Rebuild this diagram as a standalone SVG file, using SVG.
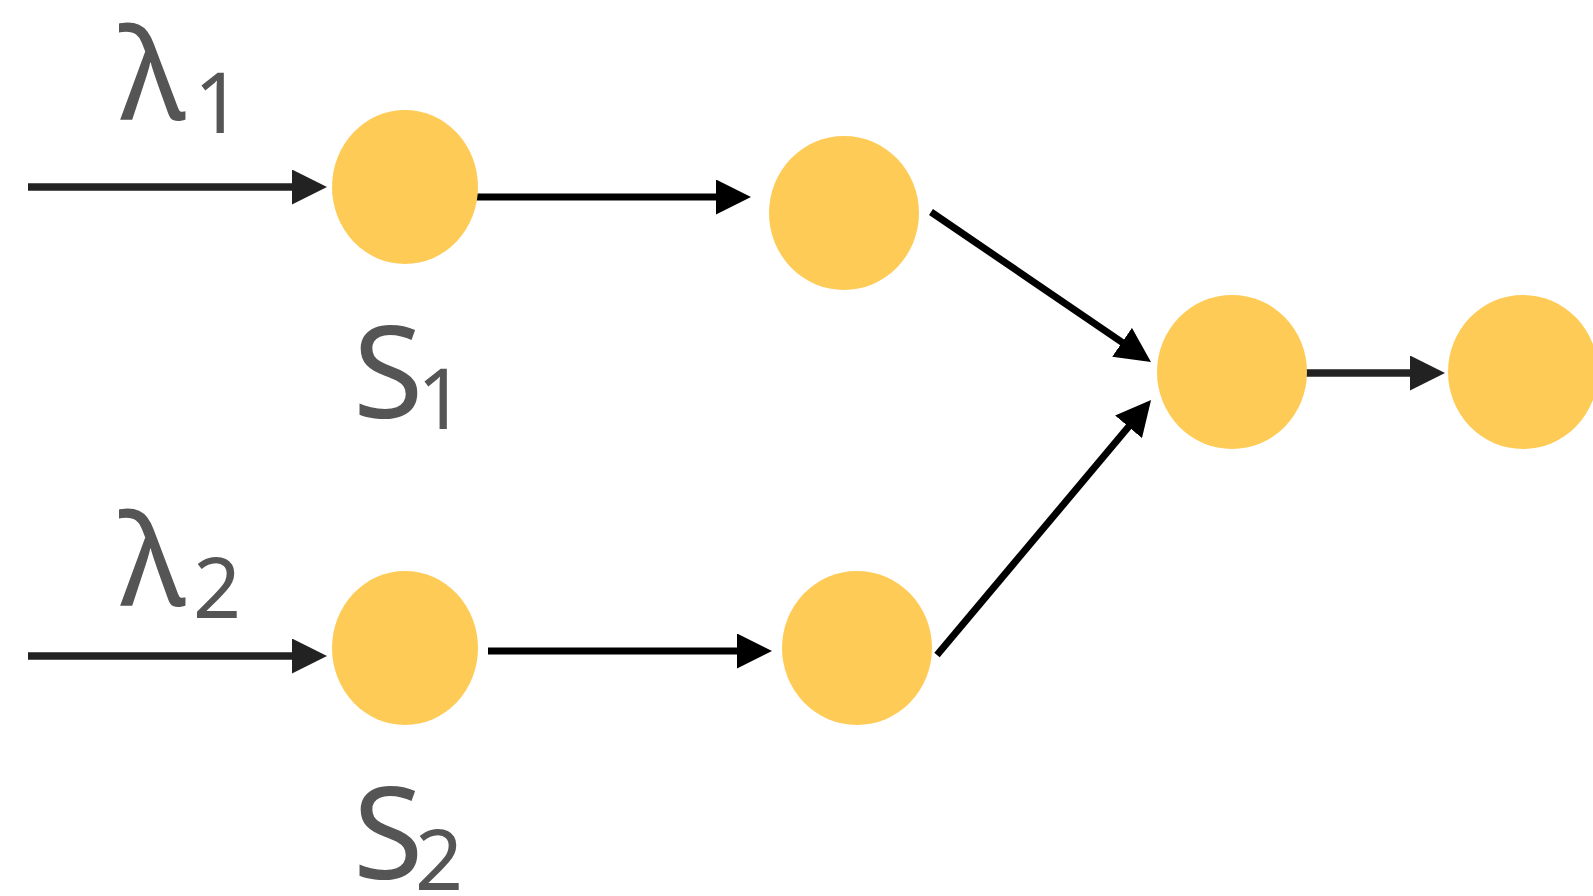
<svg xmlns="http://www.w3.org/2000/svg" width="1593" height="896" viewBox="0 0 1593 896">
  <style>
    .node { fill: #FECB57; }
    .edge { fill: none; stroke: #000; stroke-width: 7; }
    .edge.in { stroke: #222; stroke-width: 7.5; }
    .lbl { fill: #555; font-family: "Noto Sans", "Open Sans", "DejaVu Sans", sans-serif; font-weight: 400; }
    .big { font-size: 128px; }
    .sub { font-size: 84px; }
  </style>
  <defs>
    <marker id="head" markerUnits="userSpaceOnUse" markerWidth="35" markerHeight="35" refX="1" refY="17.5" orient="auto">
      <path d="M0,0 L35,17.5 L0,35 Z" fill="#000"/>
    </marker>
    <marker id="head-grey" markerUnits="userSpaceOnUse" markerWidth="35" markerHeight="35" refX="1" refY="17.5" orient="auto">
      <path d="M0,0 L35,17.5 L0,35 Z" fill="#222"/>
    </marker>
  </defs>

  <rect width="1593" height="896" fill="#fff"/>

  <!-- connectors -->
  <g id="connectors">
    <line class="edge in" x1="28" y1="187" x2="293" y2="187" marker-end="url(#head-grey)"/>
    <line class="edge in" x1="28" y1="656" x2="293" y2="656" marker-end="url(#head-grey)"/>
    <line class="edge" x1="470" y1="197" x2="717" y2="197" marker-end="url(#head)"/>
    <line class="edge" x1="488" y1="651" x2="738" y2="651" marker-end="url(#head)"/>
    <line class="edge" x1="931" y1="212" x2="1122.9" y2="342.9" marker-end="url(#head)"/>
    <line class="edge" x1="937" y1="655" x2="1129.2" y2="426.1" marker-end="url(#head)"/>
    <line class="edge in" x1="1300" y1="373" x2="1411" y2="373" marker-end="url(#head-grey)"/>
    <text class="lbl big" id="lambda1" x="119" y="120">λ</text>
    <text class="lbl sub" x="194" y="133">1</text>
    <text class="lbl big" id="lambda2" x="119" y="606">λ</text>
    <text class="lbl sub" x="193" y="618">2</text>
  </g>

  <!-- nodes -->
  <g id="s1">
    <ellipse class="node" cx="405" cy="187" rx="73" ry="77"/>
    <text class="lbl big" x="353" y="418">S</text>
    <text class="lbl sub" x="417" y="429">1</text>
  </g>
  <g id="n2">
    <ellipse class="node" cx="844" cy="213" rx="75" ry="77"/>
  </g>
  <g id="s2">
    <ellipse class="node" cx="405" cy="648" rx="73" ry="77"/>
    <text class="lbl big" x="353" y="879">S</text>
    <text class="lbl sub" x="415" y="890">2</text>
  </g>
  <g id="n4">
    <ellipse class="node" cx="857" cy="648" rx="75" ry="77"/>
  </g>
  <g id="n5">
    <ellipse class="node" cx="1232" cy="372" rx="75" ry="77"/>
  </g>
  <g id="n6">
    <ellipse class="node" cx="1523" cy="372" rx="75" ry="77"/>
  </g>
</svg>
